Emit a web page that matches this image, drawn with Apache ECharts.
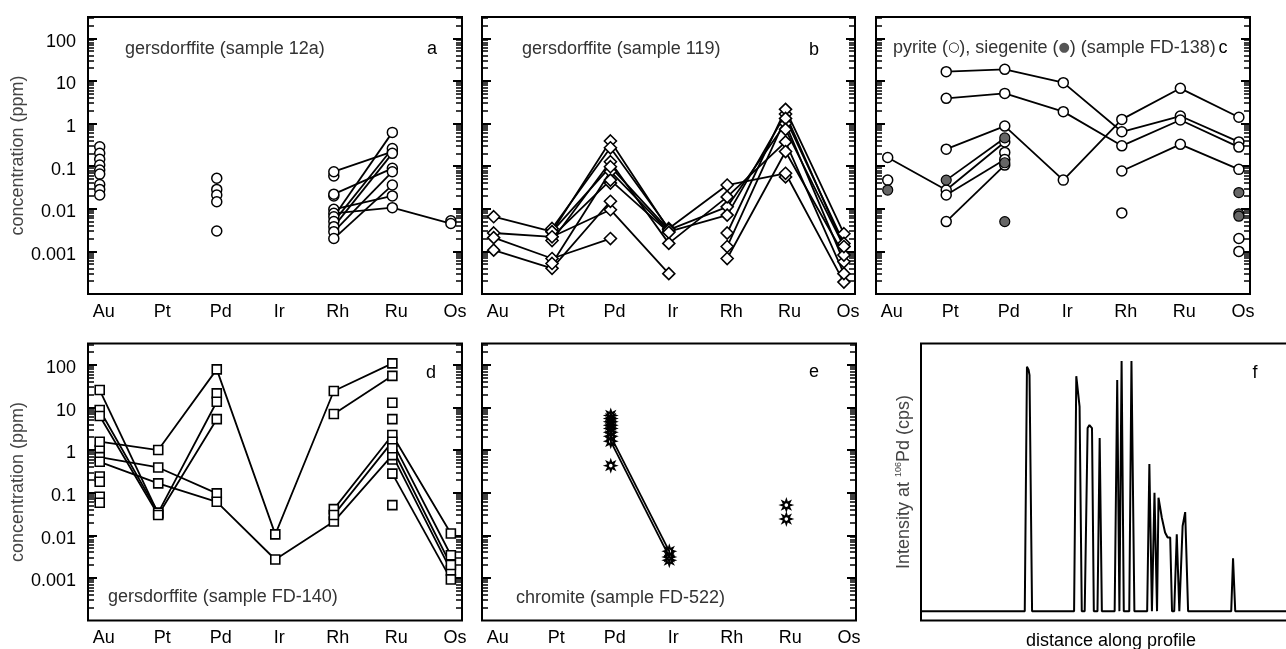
<!DOCTYPE html>
<html>
<head>
<meta charset="utf-8">
<script src="https://cdn.jsdelivr.net/npm/echarts@6/dist/echarts.min.js"></script>
<style>
  html, body { margin: 0; padding: 0; background: #fff; }
  #chart { width: 1286px; height: 649px; }
</style>
</head>
<body>
<div id="chart"></div>
<script>
// element order on the x axis of panels a-e
const elements = ['Au', 'Pt', 'Pd', 'Ir', 'Rh', 'Ru', 'Os'];
const majorTicks = [0.001, 0.01, 0.1, 1, 10, 100];

// panel a : gersdorffite 12a (loose points per element + connected analyses)
const aLoose = [[0.285, 0.2, 0.145, 0.106, 0.081, 0.065, 0.037, 0.0285, 0.021], [], [0.052, 0.0285, 0.021, 0.0146, 0.003], [], [0.059, 0.02], [], [0.0052]];
const aLines = [
  [null, null, null, null, 0.074, 0.218, null],
  [null, null, null, null, 0.022, 0.089, null],
  [null, null, null, null, 0.0097, 0.02, null],
  [null, null, null, null, 0.0078, 0.0106, 0.0045],
  [null, null, null, null, 0.0065, 0.62, null],
  [null, null, null, null, 0.005, 0.26, null],
  [null, null, null, null, 0.0038, 0.2, null],
  [null, null, null, null, 0.0029, 0.074, null],
  [null, null, null, null, 0.002, 0.036, null]
];

// panel b : gersdorffite 119
const bLoose = [[], [], [0.04], [], [], [0.056], []];
const bLines = [
  [0.0065, 0.0029, 0.39, 0.0032, 0.0111, 1.0, 0.00057],
  [0.0027, 0.0022, 0.0095, 0.0003, null, null, null],
  [0.0021, 0.00068, 0.002, null, null, null, null],
  [0.00107, 0.0004, 0.015, null, null, null, null],
  [null, 0.00345, 0.27, 0.00345, 0.036, 0.068, 0.00019],
  [null, 0.0018, 0.127, 0.00154, 0.019, 0.37, 0.0003],
  [null, 0.00052, 0.075, 0.0029, 0.0071, 1.67, 0.0013],
  [null, 0.0029, 0.097, 0.0032, null, null, null],
  [null, 0.0022, 0.047, 0.0028, null, null, null],
  [null, null, null, null, 0.0027, 2.15, 0.0026],
  [null, null, null, null, 0.0013, 1.32, 0.00154],
  [null, null, null, null, 0.00068, 0.22, 0.00082],
  [null, null, null, null, null, 0.73, 0.0013]
];

// panel c : pyrite (open) and siegenite (filled), FD-138
const cOpenLoose = [[0.047], [], [0.21], [], [0.008], [], [0.002, 0.001]];
const cFilledLoose = [[0.0275], [], [0.12, 0.005], [], [], [], [0.024, 0.0076, 0.0067]];
const cOpenLines = [
  [null, 16.5, 18.7, 9.1, 0.64, 1.5, 0.37],
  [null, 3.9, 5.1, 1.9, 0.30, 1.21, 0.28],
  [null, 0.25, 0.87, 0.047, 1.25, 6.7, 1.4],
  [null, null, null, null, 0.077, 0.325, 0.084],
  [0.16, 0.0275, 0.37, null, null, null, null],
  [null, 0.021, 0.144, null, null, null, null],
  [null, 0.005, 0.106, null, null, null, null]
];
const cFilledLines = [
  [null, 0.047, 0.46, null, null, null, null]
];

// panel d : gersdorffite FD-140
const dLoose = [[1.0, 0.24, 0.18, 0.08, 0.058], [], [21.4], [], [], [12.9, 5.3, 0.6, 0.051], []];
const dLines = [
  [1.57, 1.0, 78, 0.0105, 24.3, 108, null],
  [25.6, 0.032, null, null, null, null, null],
  [8.7, 0.034, 13.6, null, null, null, null],
  [6.3, 0.03, 5.3, null, null, null, null],
  [null, null, null, null, 7.0, 55, null],
  [0.68, 0.39, 0.096, null, null, null, null],
  [0.53, 0.165, 0.061, 0.0027, 0.021, 0.76, 0.0015],
  [null, null, null, null, 0.041, 2.25, 0.011],
  [null, null, null, null, 0.030, 1.57, 0.0034],
  [null, null, null, null, null, 1.1, 0.002],
  [null, null, null, null, null, 0.28, 0.00092]
];

// panel e : chromite FD-522
const eLoose = [[], [], [6.5, 5.5, 4.6, 3.8, 3.2, 2.6, 0.43], [0.0026], [], [0.051, 0.024], []];
const eLines = [
  [null, null, 2.1, 0.0042, null, null, null],
  [null, null, 1.6, 0.0031, null, null, null]
];

// panel f : 106Pd intensity along profile (arbitrary units)
const fDistance = [0, 28.4, 29.0, 29.45, 29.7, 30.4, 41.9, 42.5, 43.4, 44.0, 44.8, 45.6, 46.1, 46.8, 47.3, 48.3, 48.9, 49.5,
  53.0, 53.7, 54.3, 54.9, 55.5, 57.0, 57.6, 58.4, 61.9, 62.5, 63.2, 63.9, 64.6, 65.0, 65.9, 66.8, 67.5, 68.2, 68.7,
  69.3, 70.0, 70.7, 71.6, 72.3, 73.1, 84.9, 85.4, 86.0, 104];
const fIntensity = [0, 0, 91.3, 90.1, 88.2, 0, 0, 87.8, 76.4, 0, 0, 68.4, 69.5, 68.4, 0, 0, 64.7, 0,
  0, 86.4, 0, 93.5, 0, 0, 93.5, 0, 0, 55.0, 0, 44.2, 0, 42.4, 35.0, 29.4, 27.5, 27.5, 0,
  0, 28.7, 0, 31.8, 37.0, 0, 0, 19.7, 0, 0];

// minor log ticks 2..9 of each decade
const minorTicks = [];
for (let d = -4; d <= 2; d++) {
  for (let k = 2; k <= 9; k++) {
    const v = Number((k * Math.pow(10, d)).toPrecision(3));
    if (v < 316) minorTicks.push(v);
  }
}

const FONT = '"Liberation Sans", Arial, Helvetica, sans-serif';

const grids = [
  { left: 88, top: 17, width: 374, height: 277 },
  { left: 482, top: 17, width: 373, height: 277 },
  { left: 876, top: 17, width: 374, height: 277 },
  { left: 88, top: 343.5, width: 374, height: 277 },
  { left: 482, top: 343.5, width: 374, height: 277 },
  { left: 921, top: 343.5, width: 380, height: 277 }
].map(g => Object.assign({ show: true, borderColor: '#000', borderWidth: 2, outerBoundsMode: 'none', containLabel: false }, g));

const xAxes = [];
const yAxes = [];

function logY(g, position, ticks, len, width, labels) {
  return {
    type: 'log', logBase: 10, gridIndex: g, position: position, offset: 0,
    min: 1e-4, max: 316,
    axisLine: { show: false, onZero: false },
    splitLine: { show: false },
    axisTick: { show: true, inside: true, length: len, customValues: ticks, lineStyle: { color: '#000', width: width } },
    axisLabel: {
      show: labels, customValues: majorTicks, formatter: v => String(v),
      fontSize: 18, color: '#000', fontFamily: FONT, margin: 12,
      verticalAlign: 'top', lineHeight: 7
    },
    name: labels ? 'concentration (ppm)' : '',
    nameLocation: 'middle', nameGap: 60,
    nameTextStyle: { fontSize: 18, color: '#444', fontFamily: FONT }
  };
}

for (let g = 0; g < 5; g++) {
  xAxes.push({
    type: 'value', gridIndex: g, min: -0.2, max: 6.19,
    axisLine: { show: false, onZero: false }, axisTick: { show: false }, splitLine: { show: false },
    axisLabel: {
      customValues: [0, 1, 2, 3, 4, 5, 6],
      formatter: v => elements[Math.round(v)],
      fontSize: 18, color: '#000', fontFamily: FONT, margin: 9, padding: [0, 0, 0, 8]
    }
  });
  const withLabels = (g === 0 || g === 3);
  yAxes.push(logY(g, 'left', majorTicks, 9, 2, withLabels));
  yAxes.push(logY(g, 'left', minorTicks, 6, 1.5, false));
  yAxes.push(logY(g, 'right', majorTicks, 9, 2, false));
  yAxes.push(logY(g, 'right', minorTicks, 6, 1.5, false));
}

// panel f axes
xAxes.push({
  type: 'value', gridIndex: 5, min: 0, max: 104,
  axisLine: { show: false, onZero: false }, axisTick: { show: false }, axisLabel: { show: false }, splitLine: { show: false },
  name: 'distance along profile', nameLocation: 'middle', nameGap: 12,
  nameTextStyle: { fontSize: 18, color: '#000', fontFamily: FONT }
});
yAxes.push({
  type: 'value', gridIndex: 5, min: -3.5, max: 100,
  axisLine: { show: false, onZero: false }, axisTick: { show: false }, axisLabel: { show: false }, splitLine: { show: false },
  name: '{n|Intensity at }{s|106}{n|Pd (cps)}', nameLocation: 'middle', nameGap: 7, nameRotate: 90,
  nameTextStyle: {
    color: '#444', fontFamily: FONT, fontSize: 18,
    rich: {
      n: { fontSize: 18, color: '#444', fontFamily: FONT, lineHeight: 20 },
      s: { fontSize: 9, color: '#444', fontFamily: FONT, verticalAlign: 'top', lineHeight: 20 }
    }
  }
});

// star marker with a hole in the middle
function starPath() {
  let d = '';
  for (let k = 0; k < 16; k++) {
    const a = -Math.PI / 2 + k * Math.PI / 8;
    const r = k % 2 === 0 ? 10 : 4.8;
    d += (k ? 'L' : 'M') + (10 + r * Math.cos(a)).toFixed(2) + ' ' + (10 + r * Math.sin(a)).toFixed(2);
  }
  d += 'Z';
  for (let k = 0; k < 8; k++) {
    const a = -Math.PI / 2 - k * Math.PI / 4;
    d += (k ? 'L' : 'M') + (10 + 2.3 * Math.cos(a)).toFixed(2) + ' ' + (10 + 2.3 * Math.sin(a)).toFixed(2);
  }
  return 'path://' + d + 'Z';
}

const series = [];

function addLines(g, lines) {
  lines.forEach(line => {
    series.push({
      type: 'line', xAxisIndex: g, yAxisIndex: 4 * g,
      data: line.map((v, i) => v === null ? null : [i, v]).filter(p => p),
      showSymbol: false, silent: true, z: 2,
      lineStyle: { color: '#000', width: 1.8 }
    });
  });
}

function addMarkers(g, loose, lines, symbol, size, fill, border) {
  const pts = [];
  loose.forEach((vals, i) => vals.forEach(v => pts.push([i, v])));
  lines.forEach(line => line.forEach((v, i) => { if (v !== null) pts.push([i, v]); }));
  series.push({
    type: 'scatter', xAxisIndex: g, yAxisIndex: 4 * g, data: pts,
    symbol: symbol, symbolSize: size, silent: true, z: 3,
    itemStyle: { color: fill, borderColor: '#000', borderWidth: border, opacity: 1 }
  });
}

addLines(0, aLines);
addMarkers(0, aLoose, aLines, 'circle', 10, '#fff', 1.5);

addLines(1, bLines);
addMarkers(1, bLoose, bLines, 'diamond', 12, '#fff', 1.6);

addLines(2, cOpenLines);
addLines(2, cFilledLines);
addMarkers(2, cOpenLoose, cOpenLines, 'circle', 10, '#fff', 1.5);
addMarkers(2, cFilledLoose, cFilledLines, 'circle', 10, '#666', 1.2);

addLines(3, dLines);
addMarkers(3, dLoose, dLines, 'rect', 9, '#fff', 1.6);

addLines(4, eLines);
addMarkers(4, eLoose, eLines, starPath(), 16, '#000', 0);

series.push({
  type: 'line', xAxisIndex: 5, yAxisIndex: 20,
  data: fDistance.map((x, i) => [x, fIntensity[i]]),
  showSymbol: false, silent: true,
  lineStyle: { color: '#000', width: 2 }
});

// panel captions and letters
function label(x, y, text, color, align) {
  return {
    type: 'text', x: x, y: y, silent: true, z: 10,
    style: {
      text: text, font: '18px ' + FONT, fill: color,
      align: align, textAlign: align, verticalAlign: 'middle', textVerticalAlign: 'middle'
    }
  };
}

const captions = [
  label(125, 49, 'gersdorffite (sample 12a)', '#333', 'left'),
  label(432, 49, 'a', '#000', 'center'),
  label(522, 49, 'gersdorffite (sample 119)', '#333', 'left'),
  label(814, 50, 'b', '#000', 'center'),
  label(1223, 48, 'c', '#000', 'center'),
  label(108, 597, 'gersdorffite (sample FD-140)', '#333', 'left'),
  label(431, 373, 'd', '#000', 'center'),
  label(516, 598, 'chromite (sample FD-522)', '#333', 'left'),
  label(814, 372, 'e', '#000', 'center'),
  label(1255, 373, 'f', '#000', 'center')
];
const cTitle = label(893, 48, 'pyrite ({o|○}), siegenite ({f|●}) (sample FD-138)', '#333', 'left');
cTitle.style.rich = {
  o: { font: '13px "DejaVu Sans"', fill: '#000' },
  f: { font: '13px "DejaVu Sans"', fill: '#555' }
};
captions.push(cTitle);

const chart = echarts.init(document.getElementById('chart'), null, { renderer: 'canvas' });
chart.setOption({
  animation: false,
  backgroundColor: '#fff',
  textStyle: { fontFamily: FONT },
  grid: grids,
  xAxis: xAxes,
  yAxis: yAxes,
  series: series,
  graphic: captions
});
</script>
</body>
</html>
